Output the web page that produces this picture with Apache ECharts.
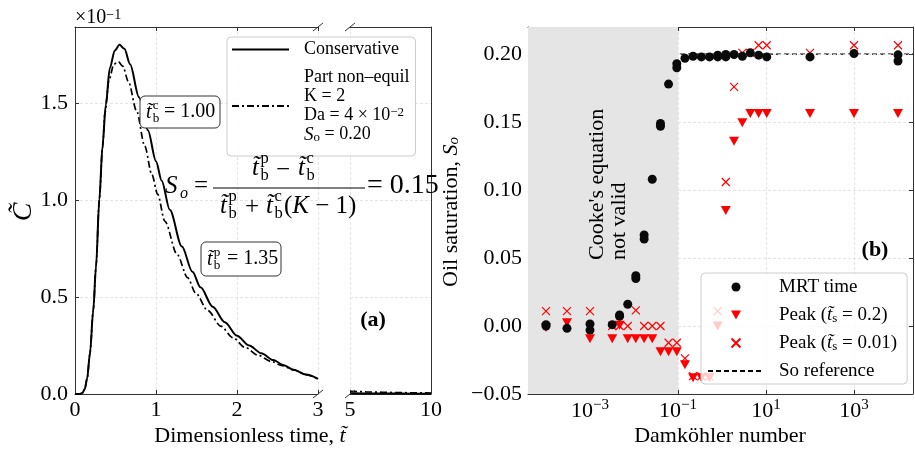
<!DOCTYPE html>
<html><head><meta charset="utf-8">
<script src="https://cdn.jsdelivr.net/npm/echarts@6/dist/echarts.min.js"></script>
<style>html,body{margin:0;padding:0;background:#fff}#c{width:915px;height:450px}</style>
</head><body><div id="c"></div>
<script>
const FONT = '"Liberation Serif","DejaVu Serif",serif';

// ---------- Panel (a): breakthrough curves ----------
const tCons = [0, 0.06, 0.09, 0.12, 0.15, 0.185, 0.225, 0.26, 0.30, 0.34, 0.38, 0.43, 0.49, 0.55, 0.61, 0.68, 0.79, 0.9, 1.0, 1.07, 1.17, 1.32, 1.45, 1.55, 1.7, 1.85, 2.0, 2.15, 2.3, 2.45, 2.57, 2.7, 2.85, 3.0];
const cCons = [0, 0, 0.005, 0.025, 0.08, 0.21, 0.43, 0.66, 1.0, 1.28, 1.49, 1.68, 1.77, 1.80, 1.78, 1.70, 1.53, 1.36, 1.20, 1.10, 0.95, 0.76, 0.63, 0.55, 0.45, 0.37, 0.30, 0.25, 0.21, 0.175, 0.15, 0.125, 0.10, 0.078];
const tPart = [0, 0.06, 0.09, 0.12, 0.15, 0.185, 0.225, 0.26, 0.30, 0.34, 0.37, 0.42, 0.48, 0.535, 0.59, 0.66, 0.76, 0.86, 0.95, 1.02, 1.11, 1.26, 1.39, 1.49, 1.64, 1.8, 1.95, 2.1, 2.26, 2.42, 2.56, 2.7, 2.85, 3.0];
const cPart = [0, 0, 0.005, 0.025, 0.08, 0.21, 0.43, 0.66, 1.0, 1.27, 1.45, 1.62, 1.70, 1.713, 1.69, 1.61, 1.46, 1.28, 1.13, 1.03, 0.89, 0.72, 0.60, 0.52, 0.43, 0.35, 0.29, 0.24, 0.20, 0.168, 0.146, 0.124, 0.10, 0.078];
const tLate = [5, 6, 7, 8, 9, 10];
const cConsLate = [0.004, 0.003, 0.0025, 0.002, 0.0015, 0.001];
const cPartLate = [0.014, 0.011, 0.009, 0.007, 0.006, 0.005];
const aXTicksEarly = [0, 1, 2, 3];
const aXTicksLate = [5, 10];
const aYTicks = [0, 0.5, 1.0, 1.5];

// ---------- Panel (b): oil saturation vs Damkohler ----------
const mrtDa = [1e-4, 1e-4, 3e-4, 1e-3, 1e-3, 3.2e-3, 4.7e-3, 4.7e-3, 7.2e-3, 0.011, 0.011, 0.017, 0.017, 0.026, 0.040, 0.040, 0.061, 0.094, 0.094, 0.144, 0.22, 0.34, 0.52, 0.80, 0.80, 1.22, 1.22, 1.88, 2.9, 4.4, 6.8, 10.4, 100, 1000, 10000, 10000];
const mrtSo = [0.001, 0.0, -0.0017, 0.0015, -0.003, 0.001, 0.0072, 0.0082, 0.016, 0.035, 0.037, 0.064, 0.067, 0.108, 0.147, 0.149, 0.178, 0.190, 0.193, 0.197, 0.1985, 0.198, 0.198, 0.1993, 0.198, 0.1998, 0.198, 0.1998, 0.1985, 0.201, 0.1993, 0.198, 0.198, 0.2005, 0.1995, 0.195];
const peakDa = [1e-4, 3e-4, 1e-3, 3.2e-3, 4.7e-3, 7.2e-3, 0.011, 0.017, 0.026, 0.040, 0.061, 0.094, 0.144, 0.22, 0.34, 0.52, 0.80, 1.22, 1.88, 2.9, 4.4, 6.8, 10.4, 100, 1000, 10000];
const peak02So = [-0.001, 0.0024, -0.0093, -0.0093, 0.0005, -0.0093, -0.0093, -0.0093, -0.0093, -0.019, -0.019, -0.019, -0.0285, -0.038, -0.038, -0.038, 0.0, 0.085, 0.136, 0.1495, 0.1564, 0.1564, 0.1564, 0.1564, 0.1564, 0.1564];
const peak001So = [0.011, 0.011, 0.011, 0.0, 0.0, 0.0, 0.0115, 0.0, 0.0, 0.0, -0.0123, -0.0123, -0.0238, -0.0368, -0.037, -0.037, 0.011, 0.106, 0.176, 0.201, 0.201, 0.2066, 0.2066, 0.201, 0.2066, 0.2066];
const soRef = 0.20;
const cookeLimitDa = 0.1;
const bXTicks = [-3, -1, 1, 3];          // log10 exponents of labelled ticks
const bYTicks = [-0.05, 0, 0.05, 0.10, 0.15, 0.20];

const A_YMAX = 1.892;
const B_XMIN = -4.409, B_XMAX = 4.341;
const B_YMIN = -0.05, B_YMAX = 0.22;

const zip = (xs, ys) => xs.map((x, i) => [x, ys[i]]);
const zipLog = (xs, ys) => xs.map((x, i) => [Math.log10(x), ys[i]]);

const lineC = '#333';
const axLine = {show: true, onZero: false, lineStyle: {color: lineC, width: 1}};
const tick = (vals, show = true) => ({show, inside: true, length: 4, customValues: vals, lineStyle: {color: lineC, width: 1}});
const split = {show: true, lineStyle: {color: '#dedede', width: 0.8, type: [3, 2]}};
const lab = {fontFamily: FONT, fontSize: 22, color: '#000'};

const supRich = {
  b: {fontFamily: FONT, fontSize: 22, lineHeight: 26, color: '#000'},
  s: {fontFamily: FONT, fontSize: 15, lineHeight: 14, verticalAlign: 'top', color: '#000'}
};
const fmtMinus = v => (v < 0 ? '\u2212' : '') + Math.abs(v);

const xAxis = [
  {gridIndex: 0, type: 'value', min: 0, max: 3, position: 'bottom', axisLine: axLine, axisTick: tick(aXTicksEarly),
   axisLabel: Object.assign({customValues: aXTicksEarly, margin: 5}, lab), splitLine: split},
  {gridIndex: 0, type: 'value', min: 0, max: 3, position: 'top', axisLine: axLine, axisTick: tick(aXTicksEarly),
   axisLabel: {show: false}, splitLine: {show: false}},
  {gridIndex: 1, type: 'value', min: 5, max: 10, position: 'bottom', axisLine: axLine, axisTick: tick(aXTicksLate),
   axisLabel: Object.assign({customValues: aXTicksLate, margin: 5}, lab), splitLine: split},
  {gridIndex: 1, type: 'value', min: 5, max: 10, position: 'top', axisLine: axLine, axisTick: tick(aXTicksLate, false),
   axisLabel: {show: false}, splitLine: {show: false}},
  {gridIndex: 2, type: 'value', min: B_XMIN, max: B_XMAX, position: 'bottom', axisLine: axLine, axisTick: tick(bXTicks),
   axisLabel: {customValues: bXTicks, margin: 4, formatter: v => '{b|10}{s|' + fmtMinus(v) + '}', rich: supRich},
   splitLine: split},
  {gridIndex: 2, type: 'value', min: B_XMIN, max: B_XMAX, position: 'top', axisLine: axLine, axisTick: tick(bXTicks),
   axisLabel: {show: false}, splitLine: {show: false}}
];
const yAxis = [
  {gridIndex: 0, type: 'value', min: 0, max: A_YMAX, position: 'left', axisLine: axLine, axisTick: tick(aYTicks),
   axisLabel: Object.assign({customValues: aYTicks, margin: 7, formatter: v => v.toFixed(1)}, lab), splitLine: split},
  {gridIndex: 1, type: 'value', min: 0, max: A_YMAX, position: 'right', axisLine: axLine, axisTick: tick(aYTicks, false),
   axisLabel: {show: false}, splitLine: split},
  {gridIndex: 2, type: 'value', min: B_YMIN, max: B_YMAX, position: 'left', axisLine: axLine, axisTick: tick(bYTicks),
   axisLabel: Object.assign({customValues: bYTicks, margin: 6, formatter: v => (v < 0 ? '\u2212' : '') + Math.abs(v).toFixed(2)}, lab),
   splitLine: split},
  {gridIndex: 2, type: 'value', min: B_YMIN, max: B_YMAX, position: 'right', axisLine: axLine, axisTick: tick(bYTicks),
   axisLabel: {show: false}, splitLine: {show: false}}
];

const consStyle = {color: '#000', width: 2};
const partStyle = {color: '#000', width: 1.7, type: [7, 3, 2, 3]};
const xPath = 'path://M0,0L10,10M10,0L0,10';
const downTri = 'path://M0,0L10,0L5,9Z';

const series = [
  {name: 'Conservative', type: 'line', xAxisIndex: 0, yAxisIndex: 0, data: zip(tCons, cCons), symbol: 'none',
   smooth: 0.3, smoothMonotone: 'x', lineStyle: consStyle, itemStyle: {color: '#000'}},
  {name: 'Part non\u2013equil', type: 'line', xAxisIndex: 0, yAxisIndex: 0, data: zip(tPart, cPart), symbol: 'none',
   smooth: 0.3, smoothMonotone: 'x', lineStyle: partStyle, itemStyle: {color: '#000'}},
  {name: 'Conservative', type: 'line', xAxisIndex: 2, yAxisIndex: 1, data: zip(tLate, cConsLate), symbol: 'none',
   lineStyle: consStyle, itemStyle: {color: '#000'}},
  {name: 'Part non\u2013equil', type: 'line', xAxisIndex: 2, yAxisIndex: 1, data: zip(tLate, cPartLate), symbol: 'none',
   lineStyle: partStyle, itemStyle: {color: '#000'}},
  {name: 'So reference', type: 'line', xAxisIndex: 4, yAxisIndex: 2, z: -1, symbol: 'none',
   data: [[B_XMIN, soRef], [B_XMAX, soRef]], lineStyle: {color: '#000', width: 1.3, type: [5, 3]}, itemStyle: {color: '#000'},
   markArea: {silent: true, itemStyle: {color: '#e5e5e5'}, data: [[{xAxis: B_XMIN}, {xAxis: Math.log10(cookeLimitDa)}]]}},
  {name: 'Peak02', type: 'scatter', xAxisIndex: 4, yAxisIndex: 2, data: zipLog(peakDa, peak02So), symbol: downTri,
   symbolSize: [10, 9], itemStyle: {color: '#ff0000', opacity: 1}},
  {name: 'Peak001', type: 'scatter', xAxisIndex: 4, yAxisIndex: 2, data: zipLog(peakDa, peak001So), symbol: xPath,
   symbolSize: 8, symbolKeepAspect: true, itemStyle: {color: 'rgba(0,0,0,0)', borderColor: '#ff0000', borderWidth: 1.2, opacity: 1}},
  {name: 'MRT time', type: 'scatter', xAxisIndex: 4, yAxisIndex: 2, data: zipLog(mrtDa, mrtSo), symbol: 'circle',
   symbolSize: 9, itemStyle: {color: '#0a0a0a', opacity: 1}}
];

const legRich = {
  sup: {fontFamily: FONT, fontSize: 13, lineHeight: 12, verticalAlign: 'top', color: '#000'},
  sub: {fontFamily: FONT, fontSize: 13, lineHeight: 12, verticalAlign: 'bottom', color: '#000'},
  it: {fontFamily: FONT, fontSize: 19, fontStyle: 'italic', color: '#000'}
};
const noSym = {opacity: 0};
const legend = [
  {orient: 'vertical', left: 227, top: 37, selectedMode: false,
   data: [{name: 'Conservative', itemStyle: noSym}, {name: 'Part non\u2013equil', itemStyle: noSym}],
   itemWidth: 57, itemHeight: 14, itemGap: 9, padding: [3, 6, 12, 4],
   backgroundColor: 'rgba(255,255,255,0.85)', borderColor: '#cccccc', borderWidth: 1, borderRadius: 4,
   textStyle: {fontFamily: FONT, fontSize: 18, lineHeight: 19, color: '#000', padding: [0, 0, 0, 10], rich: legRich},
   formatter: n => n === 'Part non\u2013equil'
     ? 'Part non\u2013equil\nK = 2\nDa = 4 \u00d7 10{sup|\u22122}\n{it|S}{sub|o} = 0.20' : n},
  {orient: 'vertical', left: 701, top: 273, selectedMode: false, symbolKeepAspect: true, symbolRotate: 0,
   data: ['MRT time', {name: 'Peak02', icon: downTri}, 'Peak001', {name: 'So reference', itemStyle: noSym}],
   itemWidth: 56, itemHeight: 9, itemGap: 8, padding: [4, 10, 3, 6],
   backgroundColor: 'rgba(255,255,255,0.8)', borderColor: '#cccccc', borderWidth: 1, borderRadius: 4,
   textStyle: {fontFamily: FONT, fontSize: 19, lineHeight: 20, color: '#000', padding: [0, 0, 0, 10], rich: legRich},
   formatter: n => n === 'Peak02' ? 'Peak ({it|t\u0303}{sub|s} = 0.2)'
     : n === 'Peak001' ? 'Peak ({it|t\u0303}{sub|s} = 0.01)' : n}
];

// ---------- annotations ----------
function txt(x, y, text, size, o = {}) {
  return {type: 'text', x, y, rotation: o.rot || 0, z: 50, silent: true,
    style: {text, fontFamily: FONT, fontSize: size, fontStyle: o.italic ? 'italic' : 'normal',
      fontWeight: o.bold ? 'bold' : 'normal', fill: '#000', align: o.align || 'left', verticalAlign: o.va || 'middle',
      textAlign: o.align || 'left', textVerticalAlign: o.va || 'middle', lineHeight: o.lh, rich: o.rich}};
}
function tTilde(x, y, sup, size) {
  return [
    txt(x, y, 't\u0303', size, {italic: true}),
    txt(x + size * 0.34, y - size * 0.36, sup, size * 0.66),
    txt(x + size * 0.34, y + size * 0.3, 'b', size * 0.66)
  ];
}
function brk(cx, cy) {
  return {type: 'line', z: 50, silent: true, shape: {x1: cx - 5, y1: cy + 4, x2: cx + 5, y2: cy - 4}, style: {stroke: lineC, lineWidth: 1}};
}
const richI = {i: {fontStyle: 'italic', fontFamily: FONT, fontSize: 22, color: '#000'},
  s: {fontStyle: 'italic', fontFamily: FONT, fontSize: 15, verticalAlign: 'bottom', lineHeight: 14, color: '#000'}};
const richI25 = {i: {fontStyle: 'italic', fontFamily: FONT, fontSize: 25, color: '#000'}};

const graphic = [].concat(
  [brk(318, 394), brk(350, 394), brk(318, 27), brk(350, 27)],
  [txt(75, 18, '\u00d710{s|\u22121}', 20, {rich: {s: {fontFamily: FONT, fontSize: 14, lineHeight: 12, verticalAlign: 'top', color: '#000'}}})],
  [txt(24, 212, 'C\u0303', 28, {italic: true, rot: Math.PI / 2, align: 'center'})],
  [txt(250, 436, 'Dimensionless time, {i|t\u0303}', 22, {align: 'center', rich: richI})],
  [txt(720, 436, 'Damk\u00f6hler number', 22, {align: 'center'})],
  [txt(451, 212, 'Oil saturation, {i|S}{s|o}', 22, {align: 'center', rot: Math.PI / 2, rich: richI})],
  [txt(608, 260, "Cooke's equation\nnot valid", 22, {rot: Math.PI / 2, lh: 22})],
  [txt(373, 320, '(a)', 22, {bold: true, align: 'center'}), txt(875, 250, '(b)', 22, {bold: true, align: 'center'})],
  // boxes
  [{type: 'rect', z: 45, silent: true, shape: {x: 140, y: 96, width: 80, height: 32, r: 5}, style: {fill: '#fff', stroke: '#333', lineWidth: 1}}],
  tTilde(146, 113, 'c', 20), [txt(164, 112, '= 1.00', 20)],
  [{type: 'rect', z: 45, silent: true, shape: {x: 201, y: 242, width: 80, height: 34, r: 5}, style: {fill: '#fff', stroke: '#333', lineWidth: 1}}],
  tTilde(207, 260, 'p', 20), [txt(227, 259, '= 1.35', 20)],
  // formula
  [txt(165, 186, 'S', 25, {italic: true}), txt(180, 194, 'o', 16, {italic: true}), txt(194, 186, '=', 25)],
  [{type: 'line', z: 50, silent: true, shape: {x1: 213, y1: 188, x2: 365, y2: 188}, style: {stroke: '#000', lineWidth: 1}}],
  tTilde(252, 168, 'p', 25), [txt(276, 170, '\u2212', 25)], tTilde(298, 168, 'c', 25),
  tTilde(220, 206, 'p', 25), [txt(245, 207, '+', 25)], tTilde(266, 206, 'c', 25),
  [txt(284, 206, '({i|K} \u2212 1)', 25, {rich: richI25})],
  [txt(367, 186, '= 0.15', 28)]
);

const option = {
  animation: false,
  backgroundColor: '#fff',
  grid: [
    {left: 75, top: 27, width: 243, height: 367},
    {left: 350, top: 27, width: 81, height: 367},
    {left: 528, top: 27, width: 385, height: 367}
  ],
  xAxis, yAxis, series, legend, graphic
};
const chart = echarts.init(document.getElementById('c'));
chart.setOption(option);
</script></body></html>
